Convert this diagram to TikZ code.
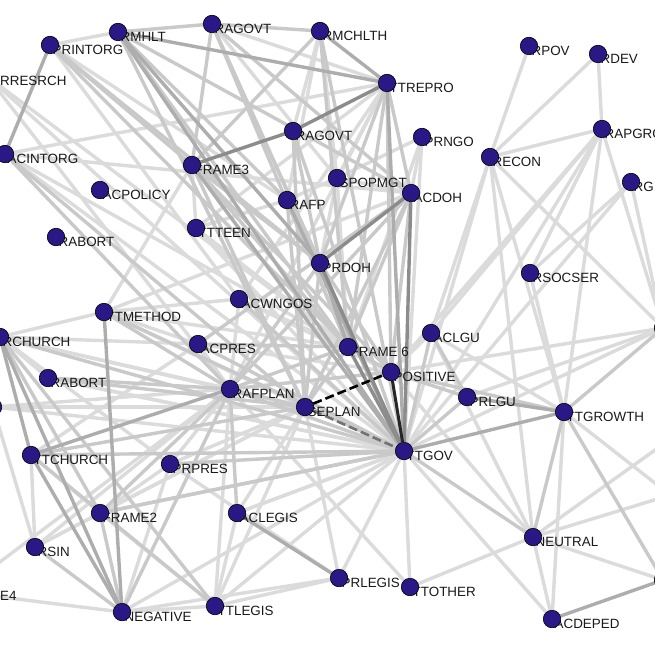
\documentclass[tikz,border=0pt]{standalone}
\usepackage{fontspec}
\setmainfont{Liberation Sans}
\pgfdeclarelayer{bg}
\pgfdeclarelayer{edges}
\pgfdeclarelayer{labels}
\pgfsetlayers{bg,edges,labels,main}
\definecolor{nodeblue}{RGB}{42,24,135}
\tikzset{
  vert/.style={circle,fill=nodeblue,draw=black,line width=0.6pt,minimum size=17.5pt,inner sep=0pt},
  lab/.style={anchor=west,inner sep=0pt,font=\fontsize{13.4}{14}\selectfont,text=black!90},
  ea/.style={draw=black!14,line width=3.4pt},
  eb/.style={draw=black!21,line width=3.4pt},
  ec/.style={draw=black!32,line width=3.4pt},
  ed/.style={draw=black!45,line width=3.4pt},
  ek/.style={draw=black!85,line width=3pt},
  edash/.style={draw=black,line width=2.6pt,dash pattern=on 9pt off 4pt}
}
\newcommand\vx[4]{%
  \node[vert] (#1) at (#2,#3) {};
  \begin{pgfonlayer}{labels}\node[lab] (#1-l) at (#2+2.5,#3+4.5) {#4};\end{pgfonlayer}}
\begin{document}
\begin{tikzpicture}[x=1pt,y=-1pt]
\useasboundingbox (0,0) rectangle (655,655);
\begin{pgfonlayer}{bg}\fill[white] (0,0) rectangle (655,655);\end{pgfonlayer}
% vertices
\vx{pri}{50}{45}{PRINTORG}
\vx{rmh}{118}{32}{RMHLT}
\vx{rag}{212}{24}{RAGOVT}
\vx{rmc}{320}{31}{RMCHLTH}
\vx{ttr}{387}{83}{TTREPRO}
\vx{rat}{293}{131}{RAGOVT}
\vx{prn}{422}{137}{PRNGO}
\vx{rec}{490}{157}{RECON}
\vx{rpo}{529}{46}{RPOV}
\vx{rde}{598}{54}{RDEV}
\vx{rap}{602}{129}{RAPGRO}
\vx{rg}{631}{182}{RG}
\node[vert] (rre) at (-12,77) {};
\begin{pgfonlayer}{labels}\node[lab] (rre-l) at (0,81) {RRESRCH};\end{pgfonlayer}
\vx{aci}{5}{154}{ACINTORG}
\vx{fr3}{192}{165}{FRAME3}
\vx{acp}{100}{190}{ACPOLICY}
\vx{rab}{56}{237}{RABORT}
\vx{tte}{196}{228}{TTTEEN}
\vx{raf}{287}{200}{RAFP}
\vx{spo}{337}{178}{SPOPMGT}
\vx{acd}{411}{193}{ACDOH}
\vx{prd}{320}{263}{PRDOH}
\vx{acw}{239}{299}{ACWNGOS}
\vx{ttm}{104}{312}{TTMETHOD}
\vx{rso}{530}{273}{RSOCSER}
\vx{acr}{198}{344}{ACPRES}
\vx{fr6}{348}{347}{FRAME 6}
\vx{pos}{391}{372}{POSITIVE}
\vx{acl}{431}{333}{ACLGU}
\vx{prl}{467}{397}{PRLGU}
\vx{rfp}{230}{389}{RAFPLAN}
\vx{sep}{305}{407}{SEPLAN}
\vx{ttg}{404}{451}{TTGOV}
\vx{tgr}{564}{412}{TTGROWTH}
\vx{rch}{0}{337}{RCHURCH}
\vx{rbb}{48}{378}{RABORT}
\node[vert] (lft) at (-7,407) {};
\vx{ttc}{31}{455}{TTCHURCH}
\vx{prp}{170}{464}{PRPRES}
\vx{fr2}{100}{513}{FRAME2}
\vx{acg}{237}{513}{ACLEGIS}
\vx{rsi}{35}{547}{RSIN}
\node[vert] (fr4) at (-40,592) {};
\begin{pgfonlayer}{labels}\node[lab] (fr4-l) at (0,596) {E4};\end{pgfonlayer}
\vx{neg}{122}{612}{NEGATIVE}
\vx{ttl}{215}{606}{TTLEGIS}
\vx{prg}{339}{578}{PRLEGIS}
\vx{tto}{410}{587}{TTOTHER}
\vx{neu}{533}{537}{NEUTRAL}
\vx{acd2}{552}{619}{ACDEPED}
\node[vert] (ra) at (663,328) {};
\node[vert] (rb) at (663,580) {};
\coordinate (rc) at (700,418);
\coordinate (rd) at (700,486);
\coordinate (re) at (720,534);
% edges
\begin{pgfonlayer}{edges}
\foreach \a/\b in {pri/rmh,pri/raf,pri/acw,rag/ttr,rag/spo,rmc/rat,rmc/raf,rmc/spo,ttr/spo,ttr/acw,ttr/tte,ttr/rfp,ttr/aci,
  prn/acd,prn/spo,prn/ttg,prn/fr6,spo/acd,spo/prd,spo/fr6,spo/raf,raf/tte,fr3/tte,tte/ttg,tte/fr6,acw/fr6,acw/rfp,acw/pos,
  aci/fr6,aci/ttg,aci/acd,rre/fr6,rre/ttg,rre/rfp,ttm/acw,ttm/fr6,ttm/sep,ttm/acd,ttm/fr3,acr/pos,acr/rfp,
  pos/acl,pos/ra,pos/rap,acl/tgr,acl/rec,acl/neu,acl/rap,prl/ra,ttg/ra,ttg/acd2,ttg/tto,ttg/prg,ttg/ttl,ttg/neg,ttg/acg,ttg/rbb,
  ttg/rec,ttg/rap,ttg/rg,tgr/acd2,tgr/rap,tgr/rso,tgr/rec,neu/tto,neu/acd2,neu/rb,neu/rc,neu/rd,tgr/re,pos/neu,rec/rpo,rec/rde,rec/rap,
  rde/rap,rec/neu,rap/rso,rg/rso,rg/ra,rec/ra,rap/ra,rap/pos,
  rch/rbb,rch/rfp,rch/sep,rch/ttm,rch/acr,rch/prp,rbb/ttg,ttc/fr2,ttc/rsi,ttc/acr,lft/sep,lft/ttg,lft/rfp,lft/rsi,
  prp/rfp,prp/neg,prp/fr2,prp/sep,prp/prg,fr2/ttl,fr2/sep,acg/ttl,acg/ttg,acg/sep,rsi/rfp,rsi/sep,rsi/fr2,fr4/neg,fr4/rfp,
  neg/ttl,neg/prg,ttl/rfp,ttl/prg,ttl/sep,prg/sep,tto/rfp,acr/ttm}
  \draw[ea] (\a) -- (\b);
\foreach \a/\b in {pri/fr3,pri/fr6,rmh/rag,rmh/fr6,rmh/acd,rmh/raf,rmh/sep,rag/rmc,rag/fr3,rag/acd,rag/prd,rag/ttg,rag/fr6,
  rmc/fr3,rmc/ttg,rmc/fr6,ttr/acd,ttr/prd,ttr/fr6,ttr/pos,rat/prd,rat/ttg,rat/sep,acd/pos,acd/fr6,acd/sep,acd/rfp,acd/acr,
  raf/fr6,raf/sep,raf/prd,prd/pos,prd/sep,prd/rfp,fr3/prd,fr3/fr6,fr3/sep,fr3/pos,acw/ttg,aci/rfp,aci/sep,ttm/rfp,ttm/ttg,
  acr/ttg,acr/fr6,fr6/pos,fr6/sep,fr6/rfp,pos/prl,pos/tgr,acl/ttg,acl/prl,prl/ttg,ttg/neu,ttg/prp,ttg/fr2,ttg/ttc,ttg/rch,
  tgr/ra,tgr/neu,tgr/rb,rch/fr2,rch/ttl,rbb/rfp,rbb/sep,ttc/sep,ttc/ttl,fr2/rfp,fr2/neg,fr2/ttg,rsi/neg,neg/rfp,rfp/sep,rfp/pos,
  rfp/ttg,acg/rfp,pri/prd}
  \draw[eb] (\a) -- (\b);
\foreach \a/\b in {pri/aci,rmh/ttr,rmh/prd,rmh/ttg,rmc/ttr,ttr/ttg,raf/ttg,fr3/ttg,prd/fr6,tgr/ttg,prl/tgr,rch/neg,rch/ttc,
  ttc/rfp,ttc/neg,acg/prg,ttm/neg,acd2/rb}
  \draw[ec] (\a) -- (\b);
\foreach \a/\b in {ttr/rat,rat/fr3,acd/prd,acd/ttg,prd/ttg,fr6/ttg}
  \draw[ed] (\a) -- (\b);
\draw[ek] (pos) -- (ttg);
\draw[edash] (sep) -- (pos);
\draw[edash,draw=black!55] (sep) -- (ttg);
\end{pgfonlayer}
\end{tikzpicture}
\end{document}
